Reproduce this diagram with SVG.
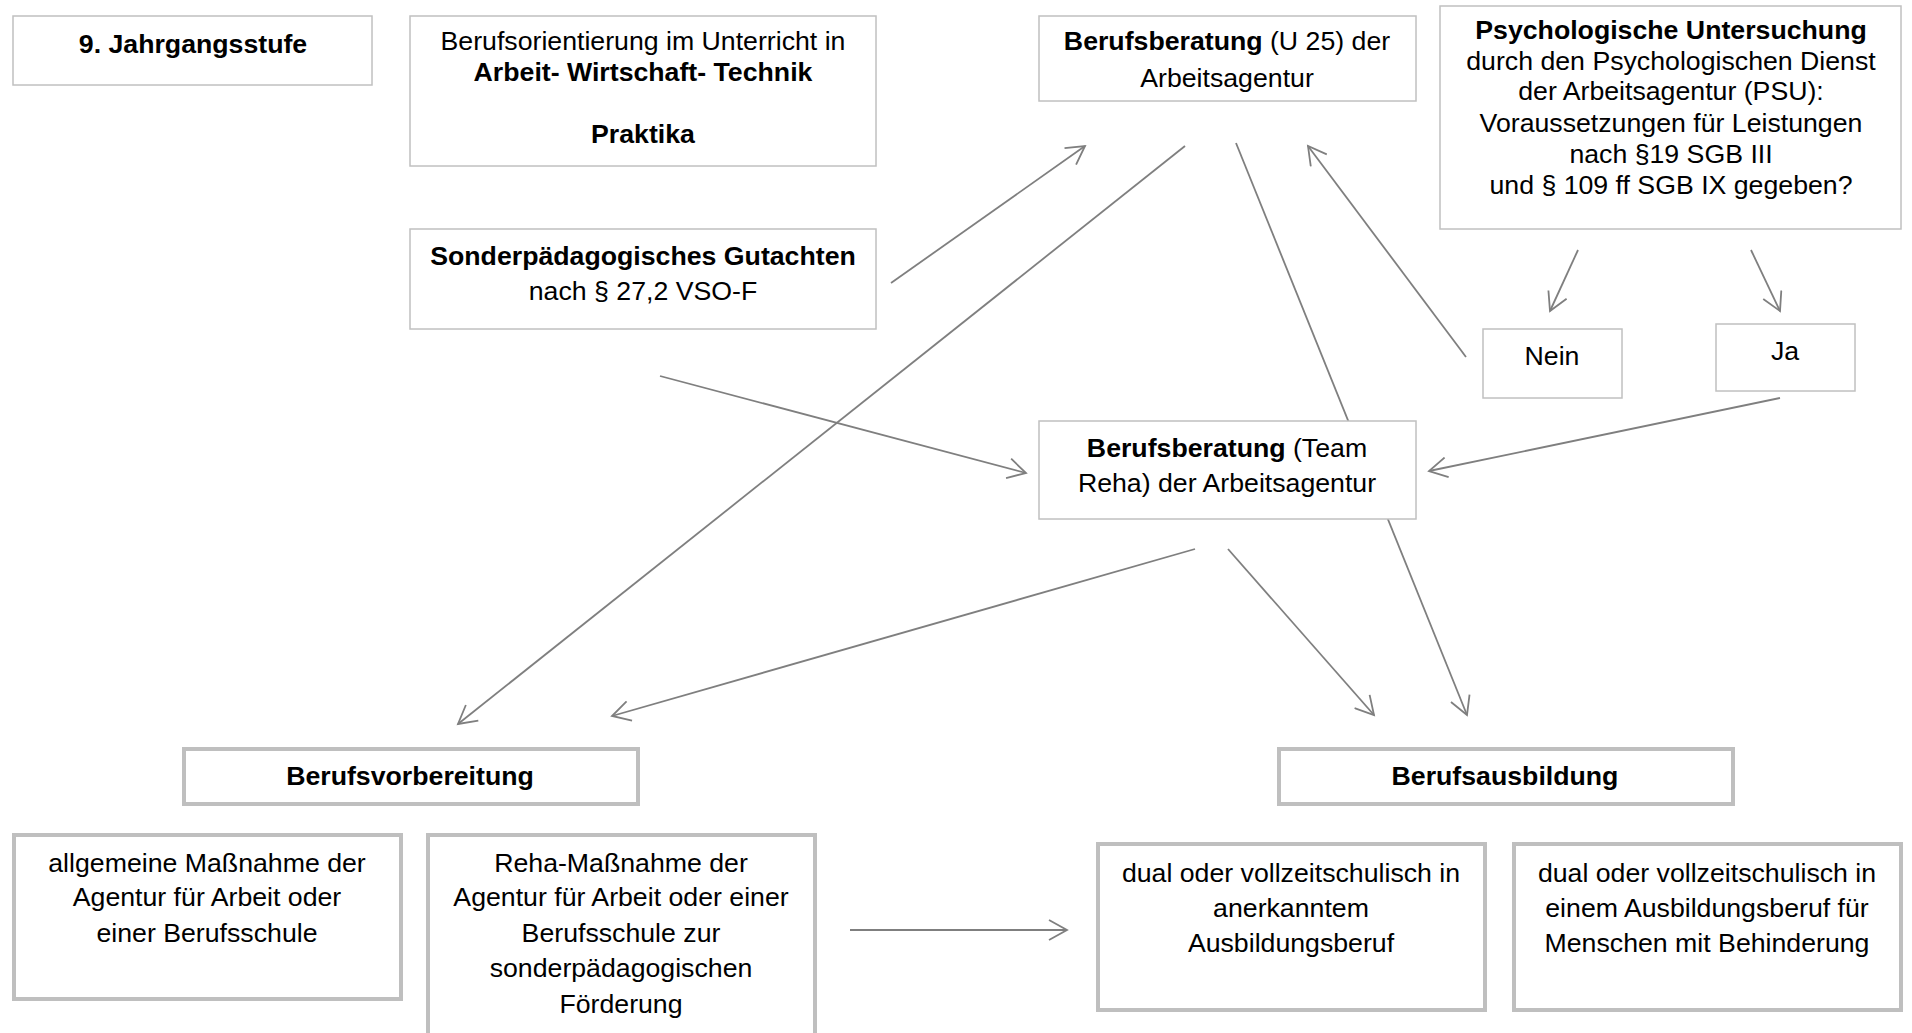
<svg xmlns="http://www.w3.org/2000/svg" width="1912" height="1033" viewBox="0 0 1912 1033">
<style>
text{font-family:"Liberation Sans",Arial,sans-serif;font-size:26.7px;fill:#000;text-anchor:middle}
.b{font-weight:bold}
.box{fill:#fff;stroke:#c0c0c0;stroke-width:1.5}
.tbox{fill:#fff;stroke:#bfbfbf;stroke-width:4}
.c{stroke:#7f7f7f;stroke-width:1.8;fill:none}
</style>
<defs>
<marker id="a" viewBox="0 0 22 22" refX="19" refY="11" markerWidth="22" markerHeight="22" markerUnits="userSpaceOnUse" orient="auto">
<path d="M1,1 L19,11 L1,21" fill="none" stroke="#7f7f7f" stroke-width="1.8"/>
</marker>
</defs>
<rect width="1912" height="1033" fill="#fff"/>
<g id="connectors">
<line class="c" x1="891" y1="283" x2="1085" y2="146" marker-end="url(#a)"/>
<line class="c" x1="1185" y1="146" x2="458" y2="724" marker-end="url(#a)"/>
<line class="c" x1="1236" y1="143" x2="1467" y2="715" marker-end="url(#a)"/>
<line class="c" x1="1466" y1="357" x2="1308" y2="146" marker-end="url(#a)"/>
<line class="c" x1="1578" y1="250" x2="1550" y2="311" marker-end="url(#a)"/>
<line class="c" x1="1751" y1="250" x2="1780" y2="311" marker-end="url(#a)"/>
<line class="c" x1="1780" y1="398" x2="1429" y2="471" marker-end="url(#a)"/>
<line class="c" x1="660" y1="376" x2="1026" y2="473" marker-end="url(#a)"/>
<line class="c" x1="1195" y1="549" x2="612" y2="716" marker-end="url(#a)"/>
<line class="c" x1="1228" y1="549" x2="1374" y2="715" marker-end="url(#a)"/>
<line class="c" x1="850" y1="930" x2="1067" y2="930" marker-end="url(#a)"/>
</g>
<g id="n1"><rect class="box" x="13" y="16" width="359" height="69"/><text class="b" x="193" y="53">9. Jahrgangsstufe</text></g>
<g id="n2"><rect class="box" x="410" y="16" width="466" height="150"/>
<text x="643" y="50">Berufsorientierung im Unterricht in</text>
<text class="b" x="643" y="81">Arbeit- Wirtschaft- Technik</text>
<text class="b" x="643" y="143">Praktika</text></g>
<g id="n3"><rect class="box" x="410" y="229" width="466" height="100"/>
<text class="b" x="643" y="265">Sonderpädagogisches Gutachten</text>
<text x="643" y="300">nach § 27,2 VSO-F</text></g>
<g id="n4"><rect class="box" x="1039" y="16" width="377" height="85"/>
<text x="1227" y="50"><tspan class="b">Berufsberatung</tspan> (U 25) der</text>
<text x="1227" y="87">Arbeitsagentur</text></g>
<g id="n5"><rect class="box" x="1440" y="6" width="461" height="223"/>
<text class="b" x="1671" y="39">Psychologische Untersuchung</text>
<text x="1671" y="70">durch den Psychologischen Dienst</text>
<text x="1671" y="100">der Arbeitsagentur (PSU):</text>
<text x="1671" y="132">Voraussetzungen für Leistungen</text>
<text x="1671" y="163">nach §19 SGB III</text>
<text x="1671" y="194">und § 109 ff SGB IX gegeben?</text></g>
<g id="n6"><rect class="box" x="1483" y="329" width="139" height="69"/><text x="1552" y="365">Nein</text></g>
<g id="n7"><rect class="box" x="1716" y="324" width="139" height="67"/><text x="1785" y="360">Ja</text></g>
<g id="n8"><rect class="box" x="1039" y="421" width="377" height="98"/>
<text x="1227" y="457"><tspan class="b">Berufsberatung</tspan> (Team</text>
<text x="1227" y="492">Reha) der Arbeitsagentur</text></g>
<g id="n9"><rect class="tbox" x="184" y="749" width="454" height="55"/><text class="b" x="410" y="785">Berufsvorbereitung</text></g>
<g id="n10"><rect class="tbox" x="1279" y="749" width="454" height="55"/><text class="b" x="1505" y="785">Berufsausbildung</text></g>
<g id="n11"><rect class="tbox" x="14" y="835" width="387" height="164"/>
<text x="207" y="872">allgemeine Maßnahme der</text>
<text x="207" y="906">Agentur für Arbeit oder</text>
<text x="207" y="942">einer Berufsschule</text></g>
<g id="n12"><rect class="tbox" x="428" y="835" width="387" height="210"/>
<text x="621" y="872">Reha-Maßnahme der</text>
<text x="621" y="906">Agentur für Arbeit oder einer</text>
<text x="621" y="942">Berufsschule zur</text>
<text x="621" y="977">sonderpädagogischen</text>
<text x="621" y="1013">Förderung</text></g>
<g id="n13"><rect class="tbox" x="1098" y="844" width="387" height="166"/>
<text x="1291" y="882">dual oder vollzeitschulisch in</text>
<text x="1291" y="917">anerkanntem</text>
<text x="1291" y="952">Ausbildungsberuf</text></g>
<g id="n14"><rect class="tbox" x="1514" y="844" width="387" height="166"/>
<text x="1707" y="882">dual oder vollzeitschulisch in</text>
<text x="1707" y="917">einem Ausbildungsberuf für</text>
<text x="1707" y="952">Menschen mit Behinderung</text></g>
</svg>
